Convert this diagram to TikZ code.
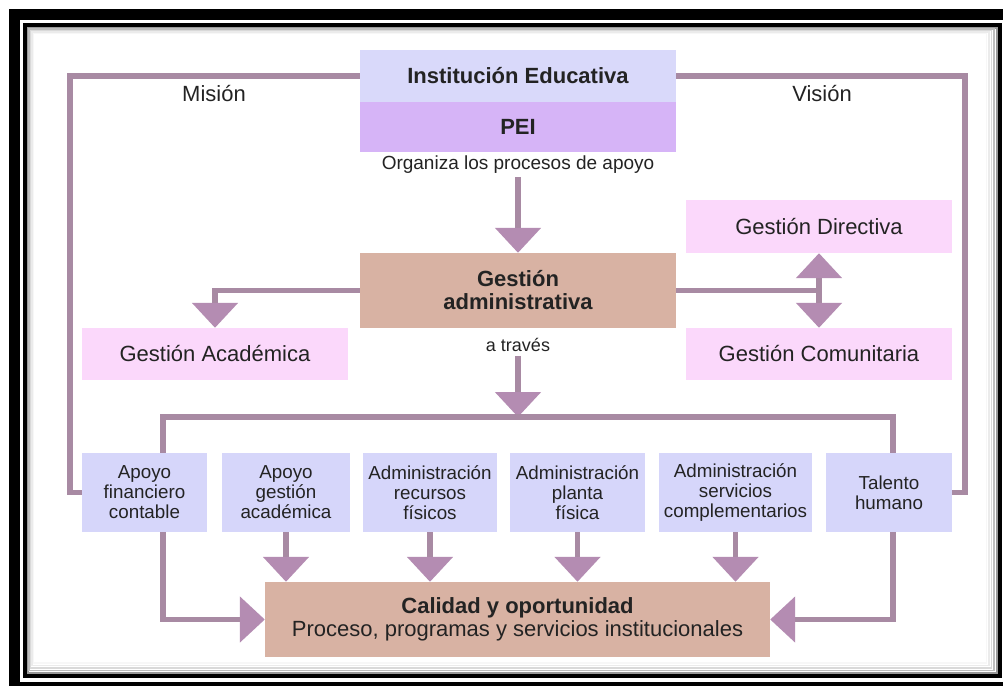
\documentclass[tikz,border=0pt]{standalone}
\usepackage{fontspec}
\setmainfont{Liberation Sans}
\usetikzlibrary{arrows.meta}

\definecolor{linkc}{RGB}{168,138,163}
\definecolor{headc}{RGB}{180,140,178}
\definecolor{instc}{RGB}{217,217,250}
\definecolor{peic}{RGB}{214,180,247}
\definecolor{gadmc}{RGB}{216,178,163}
\definecolor{pinkc}{RGB}{251,216,251}
\definecolor{procc}{RGB}{214,214,250}
\definecolor{txtc}{RGB}{35,35,35}

\begin{document}
\begin{tikzpicture}[
  x=1pt, y=-1pt,
  every node/.style={inner sep=0pt, text=txtc},
  blk/.style={rectangle, fill=#1, align=center},
  big/.style={font=\fontsize{22}{23}\selectfont},
  bigb/.style={font=\fontsize{22}{23}\selectfont\bfseries},
  small/.style={font=\fontsize{18.8}{20}\selectfont},
  link/.style={draw=linkc, line width=5.5pt},
  arrow/.style={link, -{Triangle[width=45pt, length=25pt, color=headc]}}]

  \useasboundingbox (0,0) rectangle (1003,685);
  \clip (0,0) rectangle (1003,685);

  % frame
  \fill[white] (0,0) rectangle (1003,685);
  \draw[line width=11pt] (14.5,14.5) rectangle (1015,687.5);
  \draw[line width=4pt] (25,25) rectangle (999.5,676);
  \foreach \k/\g in {0/40,1/26,2/15,3/8,4/3}
    \draw[black!\g, line width=1.6pt]
      ({27.8+1.4*\k},{27.8+1.4*\k}) rectangle ({996.7-2.6*\k},{673.2-2.6*\k});

  % boxes
  \node[blk=instc, bigb, minimum width=316pt, minimum height=52pt] (inst) at (518,76) {Institución Educativa};
  \node[blk=peic,  bigb, minimum width=316pt, minimum height=50pt] (pei)  at (518,127) {PEI};
  \node[blk=gadmc, bigb, minimum width=316pt, minimum height=75pt] (gadm) at (518,290.5) {Gestión\\administrativa};
  \node[blk=pinkc, big, minimum width=266pt, minimum height=52pt] (gacad) at (215,354) {Gestión Académica};
  \node[blk=pinkc, big, minimum width=266pt, minimum height=53pt] (gdir)  at (819,226.5) {Gestión Directiva};
  \node[blk=pinkc, big, minimum width=266pt, minimum height=52pt] (gcom)  at (819,354) {Gestión Comunitaria};

  \node[blk=procc, small, minimum width=125pt, minimum height=79pt] (b1) at (144.5,492.5) {Apoyo\\financiero\\contable};
  \node[blk=procc, small, minimum width=128pt, minimum height=79pt] (b2) at (286,492.5) {Apoyo\\gestión\\académica};
  \node[blk=procc, small, minimum width=134pt, minimum height=79pt] (b3) at (430,492.5) {Administración\\recursos\\físicos};
  \node[blk=procc, small, minimum width=135pt, minimum height=79pt] (b4) at (577.5,492.5) {Administración\\planta\\física};
  \node[blk=procc, small, minimum width=153pt, minimum height=79pt] (b5) at (735.5,492.5) {Administración\\servicios\\complementarios};
  \node[blk=procc, small, minimum width=126pt, minimum height=79pt] (b6) at (889,492.5) {Talento\\humano};

  \node[blk=gadmc, big, minimum width=505pt, minimum height=75pt] (cal) at (517.5,619.5)
    {\textbf{Calidad y oportunidad}\\Proceso, programas y servicios institucionales};

  % labels printed inside the picture
  \node[font=\fontsize{19}{20}\selectfont] (org) at (518,165) {Organiza los procesos de apoyo};
  \node[font=\fontsize{18}{20}\selectfont] (trav) at (518,345) {a través};
  \node[big] (mis) at (214,94) {Misión};
  \node[big] (vis) at (822,94) {Visión};

  % bends of the connectors
  \coordinate (misL) at (70,300);
  \coordinate (visR) at (965,300);
  \coordinate (busL) at (163,417);
  \coordinate (busR) at (893,417);
  \coordinate (busM) at (518,417);
  \coordinate (hub)  at (gdir.south |- gadm.east);

  % connectors
  \draw[link] (inst.west) -| (misL) |- (b1.west);
  \draw[link] (inst.east) -| (visR) |- (b6.east);
  \draw[arrow, shorten <=3pt] (org.south) -- (gadm.north);
  \draw[arrow] (gadm.west) -| (gacad.north);
  \draw[link] (gadm.east) -- (hub);
  \draw[arrow] (hub) -- (gdir.south);
  \draw[arrow] (hub) -- (gcom.north);
  \draw[arrow, shorten <=4pt] (trav.south) -- (busM);
  \draw[link] (busL |- b1.north) -- (busL) -- (busR) -- (busR |- b6.north);
  \foreach \b in {b2,b3,b4,b5}
    \draw[arrow] (\b.south) -- (\b.south |- cal.north);
  \draw[arrow] (busL |- b1.south) |- (cal.west);
  \draw[arrow] (busR |- b6.south) |- (cal.east);
\end{tikzpicture}
\end{document}
